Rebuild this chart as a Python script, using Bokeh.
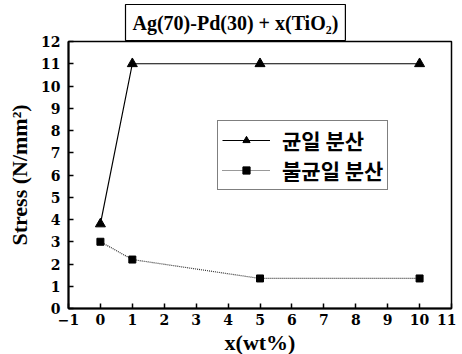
from bokeh.plotting import figure
from bokeh.models import Legend, LegendItem, Range1d, FixedTicker, Title
from bokeh.embed import file_html
from bokeh.resources import INLINE

x_vals = [0, 1, 5, 10]
uniform = [3.8, 11.0, 11.0, 11.0]
nonuniform = [3.0, 2.2, 1.35, 1.35]
x_ticks = list(range(-1, 12))
y_ticks = list(range(0, 13))
title_text = "Ag(70)-Pd(30) + x(TiO\u2082)"
names = ["균일 분산", "불균일 분산"]

SERIF = "Liberation Serif"
TICKFONT = "DejaVu Serif"
KR = "Noto Sans CJK KR"

p = figure(output_backend="svg", toolbar_location=None,
           x_range=Range1d(-1, 11), y_range=Range1d(0, 12),
           frame_width=383, frame_height=267,
           min_border_left=68, min_border_right=5, min_border_top=41, min_border_bottom=40)
p.xgrid.visible = False
p.ygrid.visible = False
p.outline_line_color = "black"
p.outline_line_width = 1.5
p.background_fill_color = "white"

p.xaxis.ticker = FixedTicker(ticks=x_ticks)
p.yaxis.ticker = FixedTicker(ticks=y_ticks)
p.axis.major_tick_in = 5
p.axis.major_tick_out = 0
p.axis.minor_tick_in = 0
p.axis.minor_tick_out = 0
p.axis.axis_line_width = 2
p.axis.major_tick_line_width = 1.5
p.axis.major_label_text_font = TICKFONT
p.axis.major_label_text_font_style = "bold"
p.axis.major_label_text_font_size = "14px"
p.axis.major_label_text_color = "black"
p.axis.axis_label_text_font = SERIF
p.axis.axis_label_text_font_style = "bold"
p.axis.axis_label_text_color = "black"

p.xaxis.major_label_standoff = 5
p.yaxis.major_label_standoff = 8
p.xaxis.axis_label = "x(wt%)"
p.xaxis.axis_label_text_font_size = "22px"
p.xaxis.axis_label_standoff = 2
p.yaxis.axis_label = "Stress (N/mm\u00b2)"
p.yaxis.axis_label_text_font_size = "22px"
p.yaxis.axis_label_standoff = 6

l1 = p.line(x_vals, uniform, line_color="black", line_width=1.2)
m1 = p.scatter(x_vals, uniform, marker="triangle", size=10, fill_color="black", line_color="black")
l2 = p.line(x_vals, nonuniform, line_color="#333333", line_width=1.2, line_dash="1 1")
m2 = p.scatter(x_vals, nonuniform, marker="square", size=7, fill_color="black", line_color="black")

legend = Legend(items=[LegendItem(label=names[0], renderers=[l1, m1]),
                       LegendItem(label=names[1], renderers=[l2, m2])],
                location=(149, 118), orientation="vertical",
                border_line_color="black", border_line_width=1.2,
                label_text_font=KR, label_text_font_style="bold",
                label_text_font_size="21px", label_text_color="black",
                label_text_line_height=0.9,
                glyph_width=48, glyph_height=18, label_height=18,
                spacing=0, padding=4, margin=0, label_standoff=12)
p.add_layout(legend, "center")

title = Title(text=title_text, align="left", offset=57, standoff=2,
              text_font=SERIF, text_font_style="bold", text_font_size="20px",
              text_color="black",
              border_line_color="black", border_line_width=1.2,
              background_fill_color="white", padding=7)
p.add_layout(title, "above")

open("out.html", "w").write(file_html(p, INLINE))
